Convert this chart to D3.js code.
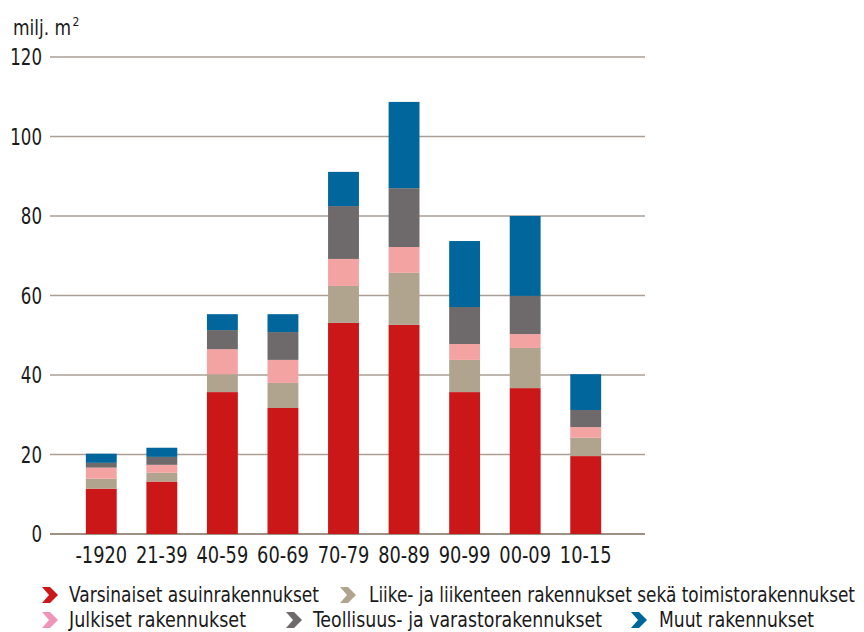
<!DOCTYPE html>
<html><head><meta charset="utf-8">
<script src="https://cdn.jsdelivr.net/npm/d3@7"></script>
<style>
html,body{margin:0;padding:0;background:#fff;}
svg text{font-family:"DejaVu Sans Condensed","DejaVu Sans",sans-serif;font-stretch:condensed;fill:#1a1a1a;}
</style></head>
<body><svg id="c" width="864" height="632"></svg>
<script>
const categories = ["-1920","21-39","40-59","60-69","70-79","80-89","90-99","00-09","10-15"];
const seriesNames = ["Varsinaiset asuinrakennukset","Liike- ja liikenteen rakennukset sekä toimistorakennukset","Julkiset rakennukset","Teollisuus- ja varastorakennukset","Muut rakennukset"];
const asuin     = [11.4, 13.2, 35.7, 31.7, 53.1, 52.6, 35.7, 36.7, 19.6];
const liike     = [2.5, 2.2, 4.5, 6.3, 9.3, 13.1, 8.1, 10.1, 4.6];
const julkiset  = [2.8, 2.0, 6.3, 5.8, 6.8, 6.5, 4.0, 3.5, 2.7];
const teollisuus= [1.2, 2.0, 4.8, 7.0, 13.3, 14.8, 9.3, 9.6, 4.3];
const muut      = [2.3, 2.3, 4.0, 4.5, 8.6, 21.7, 16.6, 20.1, 9.0];
const yTicks = [0,20,40,60,80,100,120];
const unitLabel = "milj. m";
const unitSup = "2";

const barColors = ["#cc1719","#b0a48f","#f4a3a3","#6e6a6b","#00669b"];
const legendColors = ["#cc1719","#b0a48f","#f094ba","#6e6a6b","#00669b"];
// layout: chevron x, row y, text x, text width
const legendLayout = [[42,595,69,250],[340,595,369,486],[42,620,69,177],[286,620,313,289],[631,620,659,155]];

const svg = d3.select("#c");
const series = [asuin, liike, julkiset, teollisuus, muut];
const rows = categories.map((c,i)=>{const o={cat:c}; seriesNames.forEach((s,k)=>o[s]=series[k][i]); return o;});
const stacked = d3.stack().keys(seriesNames)(rows);

const y = d3.scaleLinear().domain([0,120]).range([534,57]);
const x = d3.scaleBand().domain(categories).range([71,616]).paddingInner(0.49).paddingOuter(0.245);

function squeeze(sel,k){
  sel.each(function(){const w=this.getComputedTextLength(); d3.select(this).attr("textLength",w*k).attr("lengthAdjust","spacingAndGlyphs");});
}

// gridlines
svg.append("g").selectAll("line").data(yTicks).join("line")
  .attr("x1",50).attr("x2",645)
  .attr("y1",d=>y(d)).attr("y2",d=>y(d))
  .attr("stroke",d=>d===0?"#9d9083":"#aa9e94").attr("stroke-width",d=>d===0?2.2:1.5);

// y labels
svg.append("g").selectAll("text").data(yTicks).join("text")
  .attr("x",42).attr("y",d=>y(d)).attr("dy","0.36em")
  .attr("text-anchor","end").attr("font-size",22.5).text(d=>d)
  .call(squeeze,0.82);

// unit label
const ul = svg.append("text").attr("x",13).attr("y",35).attr("font-size",21).text(unitLabel);
const ulw = ul.node().getComputedTextLength()*0.9;
ul.attr("textLength",ulw).attr("lengthAdjust","spacingAndGlyphs");
svg.append("text").attr("x",13+ulw+1.5).attr("y",26).attr("font-size",12).text(unitSup);

// bars
svg.append("g").selectAll("g").data(stacked).join("g")
  .attr("fill",(d,i)=>barColors[i])
  .selectAll("rect").data(d=>d).join("rect")
  .attr("x",d=>x(d.data.cat)).attr("width",x.bandwidth())
  .attr("y",d=>y(d[1])).attr("height",d=>y(d[0])-y(d[1]));

// x labels
svg.append("g").selectAll("text").data(categories).join("text")
  .attr("x",d=>x(d)+x.bandwidth()/2).attr("y",563)
  .attr("text-anchor","middle").attr("font-size",23).text(d=>d)
  .call(squeeze,0.86);

// legend
const lg = svg.append("g").selectAll("g").data(seriesNames).join("g")
  .attr("transform",(d,i)=>`translate(0,${legendLayout[i][1]})`);
lg.append("path").attr("transform",(d,i)=>`translate(${legendLayout[i][0]},0)`)
  .attr("d","M0,-8 L8,-8 L16,0 L8,8 L0,8 L7,0 Z").attr("fill",(d,i)=>legendColors[i]);
lg.append("text").attr("x",(d,i)=>legendLayout[i][2]).attr("dy","0.35em").attr("font-size",21)
  .attr("textLength",(d,i)=>legendLayout[i][3]).attr("lengthAdjust","spacingAndGlyphs").text(d=>d);
</script></body></html>
